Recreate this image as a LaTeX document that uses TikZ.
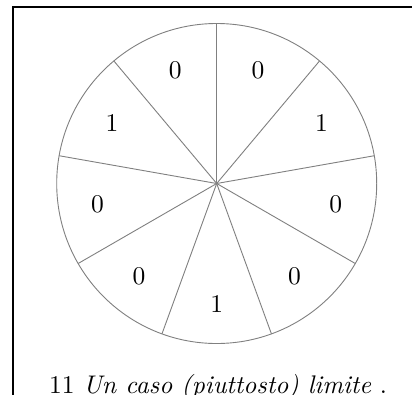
\documentclass[tikz,border=0pt]{standalone}
\usetikzlibrary{calc}
\newcommand{\bigtxt}[1]{\scalebox{2.55}{#1}}
\begin{document}
\begin{tikzpicture}[x=1pt,y=1pt,
  spoke/.style={draw=black!50,line width=0.9pt},
  frame/.style={draw=black,line width=2pt},
  digit/.style={font=\fontsize{10}{12}\selectfont,inner sep=0pt},
  captxt/.style={font=\fontsize{10}{12}\selectfont,inner sep=0pt,anchor=base}]
\useasboundingbox (0,-394) rectangle (412,0);
\clip (0,-394) rectangle (412,0);
\fill[white] (0,-394) rectangle (412,0);
% frame (left and top sides, continuing beyond the view)
\coordinate (fbl) at (13,-420);
\coordinate (ftl) at (13,-7);
\coordinate (ftr) at (440,-7);
\draw[frame] (fbl) -- (ftl) -- (ftr);
% wheel
\coordinate (C) at (216.7,-183.5);
\draw[spoke] (C) circle[radius=160];
\foreach \a in {90,50,10,-30,-70,-110,-150,-190,-230} {
  \coordinate (s\a) at ($(C)+(\a:160)$);
  \draw[spoke] (C) -- (s\a);
}
\foreach \a/\v in {70/0,30/1,-10/0,-50/0,-90/1,-130/0,-170/0,150/1,110/0} {
  \node[digit] (d\a) at ($(C)+(\a:121)$) {\bigtxt{$\v$}};
}
\node[captxt] (cap) at (218,-393) {\bigtxt{11 \textit{Un caso (piuttosto) limite} .}};
\end{tikzpicture}
\end{document}
